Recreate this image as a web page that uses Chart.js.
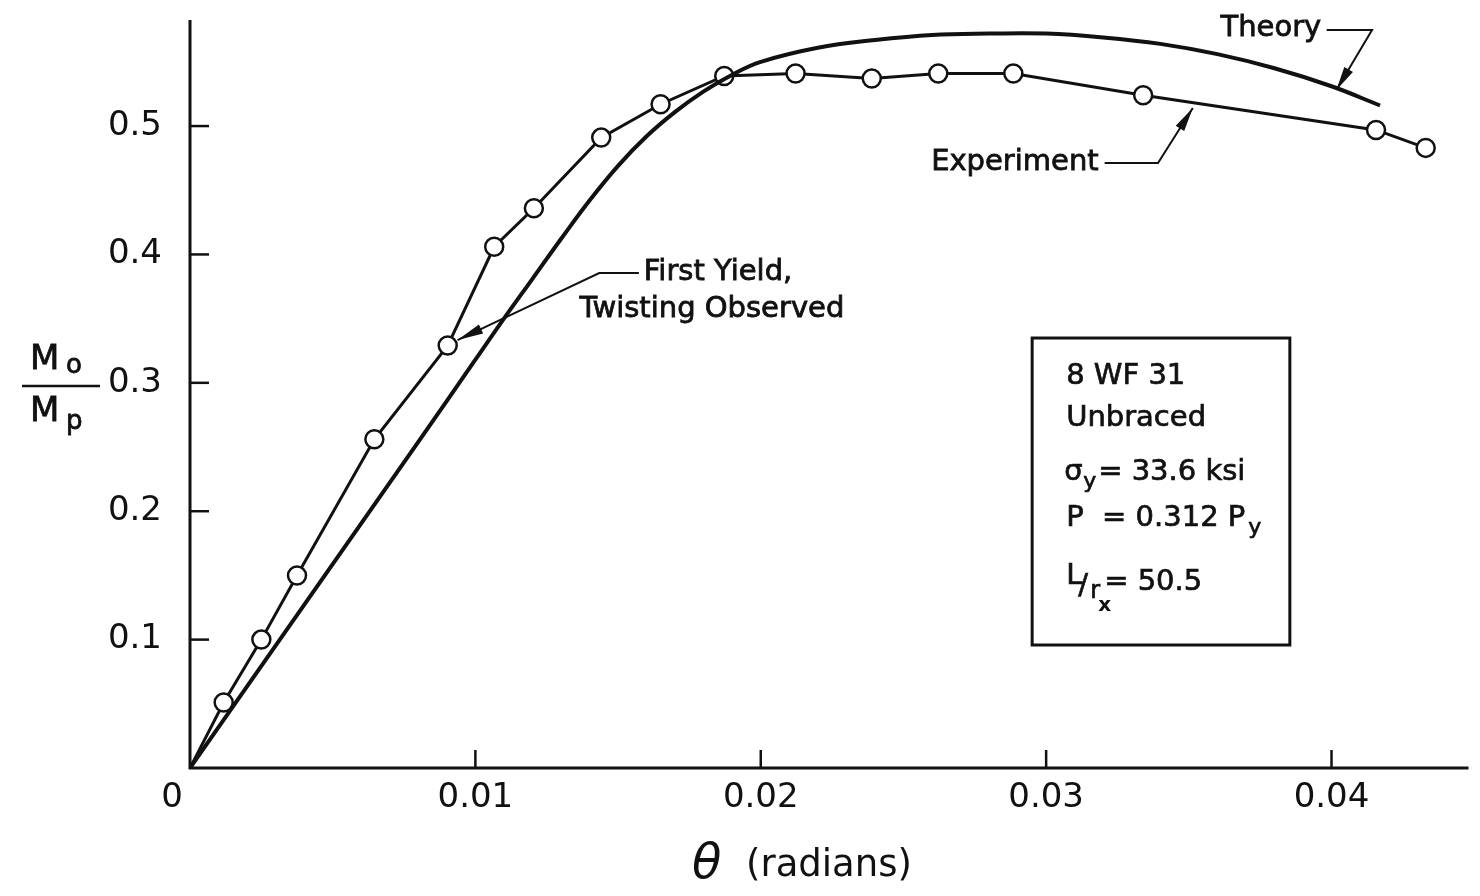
<!DOCTYPE html>
<html>
<head>
<meta charset="utf-8">
<script src="https://cdn.jsdelivr.net/npm/chart.js@4/dist/chart.umd.min.js"></script>
<style>
  html, body { margin: 0; padding: 0; background: #fff; }
  #wrap { width: 1480px; height: 896px; }
</style>
</head>
<body>
<div id="wrap"><canvas id="chart" width="1480" height="896"></canvas></div>
<script>
// experiment (circles)
const thetaExp = [0, 0.00118, 0.0025, 0.00375, 0.00646, 0.00903, 0.01066, 0.01205, 0.01441, 0.01649, 0.01872, 0.02122, 0.02389, 0.02622, 0.02885, 0.0334, 0.04156, 0.0433]
const momentExp = [0, 0.051, 0.100, 0.150, 0.256, 0.329, 0.406, 0.436, 0.491, 0.517, 0.539, 0.541, 0.537, 0.541, 0.541, 0.524, 0.497, 0.483]

// theory curve
const thetaTheory = [0, 0.004, 0.008, 0.010, 0.011, 0.012, 0.013, 0.014, 0.015, 0.016, 0.017, 0.018, 0.019, 0.020, 0.022, 0.024, 0.026, 0.028, 0.030, 0.032, 0.034, 0.036, 0.038, 0.040, 0.0417]
const momentTheory = [0, 0.127, 0.254, 0.318, 0.350, 0.381, 0.412, 0.442, 0.469, 0.492, 0.511, 0.527, 0.540, 0.550, 0.561, 0.567, 0.571, 0.572, 0.572, 0.569, 0.564, 0.556, 0.545, 0.531, 0.516]

const xTicks = [0, 0.01, 0.02, 0.03, 0.04]
const xTickLabels = ['0', '0.01', '0.02', '0.03', '0.04']
const yTicks = [0.1, 0.2, 0.3, 0.4, 0.5]
const yTickLabels = ['0.1', '0.2', '0.3', '0.4', '0.5']

const FONT = '"DejaVu Sans", "Liberation Sans", sans-serif'
const INK = '#111'

function arrow(ctx, pts, headLen, headHalf) {
  ctx.beginPath()
  ctx.moveTo(pts[0][0], pts[0][1])
  for (let i = 1; i < pts.length; i++) ctx.lineTo(pts[i][0], pts[i][1])
  ctx.stroke()
  const [x1, y1] = pts[pts.length - 2]
  const [x2, y2] = pts[pts.length - 1]
  const a = Math.atan2(y2 - y1, x2 - x1)
  ctx.beginPath()
  ctx.moveTo(x2, y2)
  ctx.lineTo(x2 - headLen * Math.cos(a) + headHalf * Math.sin(a), y2 - headLen * Math.sin(a) - headHalf * Math.cos(a))
  ctx.lineTo(x2 - headLen * Math.cos(a) - headHalf * Math.sin(a), y2 - headLen * Math.sin(a) + headHalf * Math.cos(a))
  ctx.closePath()
  ctx.fill()
}

// slightly heavier lettering, like the inked labels
function heavyText(ctx, s, x, y) {
  ctx.fillText(s, x, y)
  ctx.strokeText(s, x, y)
}

const decorations = {
  id: 'decorations',
  afterDraw(chart) {
    const ctx = chart.ctx
    const xs = chart.scales.x, ys = chart.scales.y
    const px = v => xs.getPixelForValue(v)
    const py = v => ys.getPixelForValue(v)
    const area = chart.chartArea

    ctx.save()
    ctx.strokeStyle = INK
    ctx.fillStyle = INK
    ctx.lineCap = 'butt'

    // axes
    ctx.lineWidth = 3
    ctx.beginPath()
    ctx.moveTo(area.left, area.top)
    ctx.lineTo(area.left, area.bottom)
    ctx.lineTo(area.right, area.bottom)
    ctx.stroke()

    // inward ticks
    ctx.lineWidth = 2.5
    yTicks.forEach(v => {
      ctx.beginPath()
      ctx.moveTo(area.left, py(v))
      ctx.lineTo(area.left + 19, py(v))
      ctx.stroke()
    })
    xTicks.slice(1).forEach(v => {
      ctx.beginPath()
      ctx.moveTo(px(v), area.bottom)
      ctx.lineTo(px(v), area.bottom - 18)
      ctx.stroke()
    })

    // tick labels
    ctx.font = '34px ' + FONT
    ctx.textBaseline = 'middle'
    ctx.textAlign = 'right'
    yTicks.forEach((v, i) => ctx.fillText(yTickLabels[i], area.left - 28, py(v)))
    ctx.textAlign = 'center'
    xTicks.forEach((v, i) => {
      const x = i === 0 ? px(v) - 18 : px(v)
      ctx.fillText(xTickLabels[i], x, area.bottom + 30)
    })

    // x title
    ctx.textAlign = 'left'
    ctx.font = 'italic 48px ' + FONT
    ctx.fillText('θ', 692, 866)
    ctx.font = '37px ' + FONT
    ctx.fillText('(radians)', 746, 866)

    // y title as fraction
    ctx.lineWidth = 0.8
    ctx.font = '34px ' + FONT
    heavyText(ctx, 'M', 30, 360)
    heavyText(ctx, 'M', 30, 412)
    ctx.font = '26px ' + FONT
    heavyText(ctx, 'o', 66, 366)
    heavyText(ctx, 'p', 66, 422)
    ctx.lineWidth = 2.5
    ctx.beginPath()
    ctx.moveTo(22, 386)
    ctx.lineTo(100, 386)
    ctx.stroke()

    // annotations
    ctx.lineWidth = 0.8
    ctx.font = '29px ' + FONT
    heavyText(ctx, 'Theory', px(0.03611), py(0.5763))
    heavyText(ctx, 'Experiment', px(0.02597), py(0.472))
    heavyText(ctx, 'First Yield,', px(0.0159), py(0.3863))
    heavyText(ctx, 'Twisting Observed', px(0.01365), py(0.3575))

    ctx.lineWidth = 2
    arrow(ctx, [[px(0.03983), py(0.5748)], [px(0.04142), py(0.5748)], [px(0.04017), py(0.528)]], 24, 5)
    arrow(ctx, [[px(0.03205), py(0.4712)], [px(0.03392), py(0.4712)], [px(0.03514), py(0.514)]], 24, 5)
    arrow(ctx, [[px(0.01573), py(0.3855)], [px(0.01434), py(0.3855)], [px(0.009375), py(0.3333)]], 26, 5)

    // info box
    const bx = px(0.02951), by = py(0.3349)
    const bw = px(0.03854) - bx, bh = py(0.0958) - by
    ctx.lineWidth = 3
    ctx.strokeRect(bx, by, bw, bh)
    const tx = bx + 34
    ctx.lineWidth = 0.7
    ctx.font = '29px ' + FONT
    heavyText(ctx, '8 WF 31', tx, by + 38)
    heavyText(ctx, 'Unbraced', tx, by + 80)
    // sigma_y
    heavyText(ctx, 'σ', tx - 2, by + 134)
    ctx.font = '22px ' + FONT
    heavyText(ctx, 'y', tx + 17, by + 144)
    ctx.font = '29px ' + FONT
    heavyText(ctx, '= 33.6 ksi', tx + 32, by + 134)
    // P = 0.312 P_y
    heavyText(ctx, 'P  = 0.312 P', tx, by + 180)
    ctx.font = '22px ' + FONT
    heavyText(ctx, 'y', tx + 182, by + 190)
    // L / r_x
    ctx.font = '29px ' + FONT
    heavyText(ctx, 'L', tx, by + 238)
    heavyText(ctx, '/', tx + 12, by + 248)
    ctx.font = '24px ' + FONT
    heavyText(ctx, 'r', tx + 24, by + 254)
    ctx.font = 'bold 20px ' + FONT
    ctx.fillText('x', tx + 32, by + 268)
    ctx.font = '29px ' + FONT
    heavyText(ctx, '= 50.5', tx + 38, by + 244)

    ctx.restore()
  }
}

const ctx = document.getElementById('chart').getContext('2d')
new Chart(ctx, {
  type: 'line',
  data: {
    datasets: [
      {
        label: 'Theory',
        data: thetaTheory.map((t, i) => ({ x: t, y: momentTheory[i] })),
        borderColor: INK,
        borderWidth: 4,
        pointRadius: 0,
        tension: 0.4,
        fill: false
      },
      {
        label: 'Experiment',
        data: thetaExp.map((t, i) => ({ x: t, y: momentExp[i] })),
        borderColor: INK,
        borderWidth: 3,
        tension: 0,
        pointRadius: thetaExp.map((t, i) => i === 0 ? 0 : 9),
        pointBorderWidth: 2.5,
        pointBackgroundColor: '#fff',
        pointBorderColor: INK,
        fill: false
      }
    ]
  },
  options: {
    responsive: false,
    animation: false,
    devicePixelRatio: 1,
    layout: { padding: { left: 190, top: 20, right: 0, bottom: 128 } },
    plugins: {
      legend: { display: false },
      tooltip: { enabled: false }
    },
    scales: {
      x: { type: 'linear', min: 0, max: 0.0448, display: false },
      y: { type: 'linear', min: 0, max: 0.5826, display: false }
    }
  },
  plugins: [decorations]
})
</script>
</body>
</html>
